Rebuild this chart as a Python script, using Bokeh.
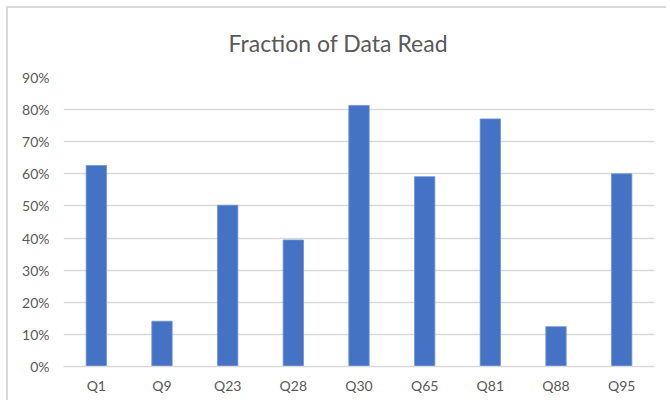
from bokeh.plotting import figure
from bokeh.models import FixedTicker, NumeralTickFormatter, ColumnDataSource
from bokeh.embed import file_html
from bokeh.resources import INLINE

queries = ["Q1", "Q9", "Q23", "Q28", "Q30", "Q65", "Q81", "Q88", "Q95"]
fraction_read = [0.626, 0.141, 0.502, 0.394, 0.813, 0.591, 0.771, 0.124, 0.600]
y_ticks = [0.0, 0.1, 0.2, 0.3, 0.4, 0.5, 0.6, 0.7, 0.8, 0.9]
title_text = "Fraction of Data Read"

FONT = "Lato"
TEXT_COLOR = "#595959"
GRID_COLOR = "#d9d9d9"
BAR_COLOR = "#4472C4"

src = ColumnDataSource(dict(q=queries, v=fraction_read))

p = figure(x_range=queries, y_range=(0, 0.9), width=660, height=394,
           output_backend="svg", toolbar_location=None,
           min_border_left=55, min_border_right=14, min_border_top=69, min_border_bottom=36,
           styles={"border-left": "2px solid #d9d9d9", "border-top": "2px solid #d9d9d9",
                   "margin-left": "6px", "margin-top": "6px"})
p.outline_line_color = None
p.background_fill_color = "white"
p.border_fill_color = "white"

p.title.text = title_text
p.title.align = "left"
p.title.vertical_align = "top"
p.title.text_font = FONT
p.title.text_font_size = "23px"
p.title.text_font_style = "normal"
p.title.text_color = TEXT_COLOR
p.title.standoff = 38
p.title.offset = 165

p.vbar(x="q", top="v", width=0.31, source=src, fill_color=BAR_COLOR,
       line_color="#6f93d6", line_width=0.8)

p.yaxis.ticker = FixedTicker(ticks=y_ticks)
p.yaxis.formatter = NumeralTickFormatter(format="0%")
p.yaxis.axis_line_color = None
p.yaxis.major_tick_line_color = None
p.yaxis.minor_tick_line_color = None
p.yaxis.major_tick_out = 0
p.yaxis.major_label_standoff = 14
p.yaxis.major_label_text_font = FONT
p.yaxis.major_label_text_font_size = "14px"
p.yaxis.major_label_text_color = TEXT_COLOR

p.xaxis.axis_line_color = GRID_COLOR
p.xaxis.axis_line_width = 1.5
p.xaxis.major_tick_line_color = None
p.xaxis.minor_tick_line_color = None
p.xaxis.major_tick_out = 0
p.xaxis.major_label_standoff = 10
p.xaxis.major_label_text_font = FONT
p.xaxis.major_label_text_font_size = "14px"
p.xaxis.major_label_text_color = TEXT_COLOR

p.xgrid.grid_line_color = None
p.ygrid.grid_line_color = GRID_COLOR
p.ygrid.grid_line_width = 1.5
p.ygrid.ticker = FixedTicker(ticks=y_ticks)

open("out.html", "w").write(file_html(p, INLINE))
